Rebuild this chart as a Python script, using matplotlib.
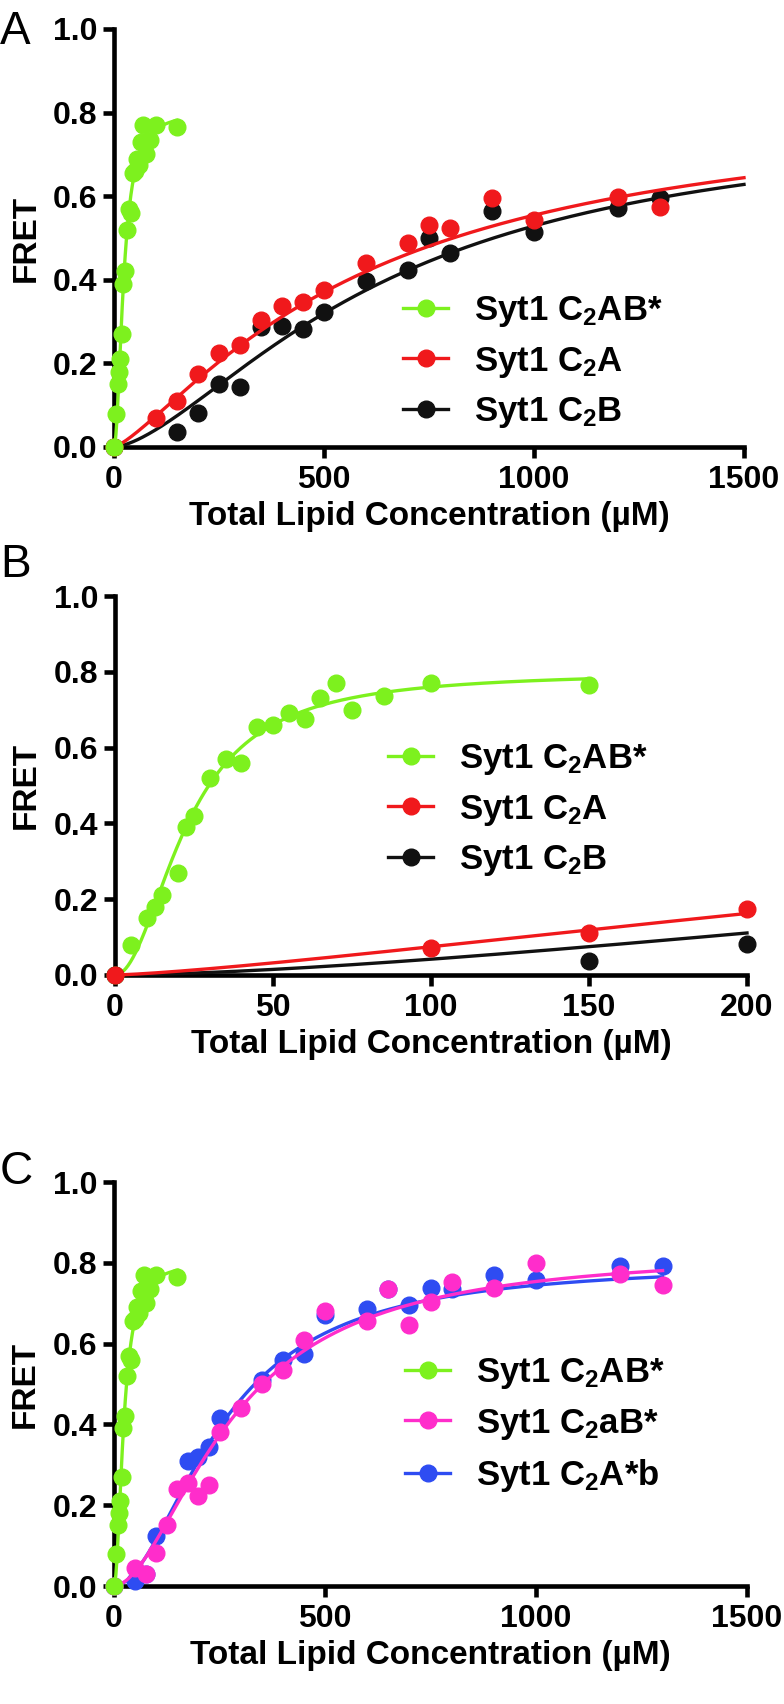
import matplotlib
matplotlib.use("Agg")
import matplotlib.pyplot as plt
from matplotlib import font_manager as fm
import numpy as np

plt.rcParams['font.family'] = ['Liberation Sans', 'DejaVu Sans']
plt.rcParams['font.weight'] = 'bold'
plt.rcParams['axes.labelweight'] = 'bold'
plt.rcParams['mathtext.fontset'] = 'custom'
plt.rcParams['mathtext.rm'] = 'Liberation Sans:bold'
plt.rcParams['mathtext.it'] = 'Liberation Sans:bold'
plt.rcParams['mathtext.bf'] = 'Liberation Sans:bold'

#--- Data (Total lipid concentration in uM, FRET)
c2ab_x = [0, 5, 10, 12.5, 15, 20, 22.5, 25, 30, 35, 40, 45, 50, 55, 60, 65, 70, 75, 85, 100, 150]
c2ab_y = [0, 0.08, 0.15, 0.18, 0.21, 0.27, 0.39, 0.42, 0.52, 0.57, 0.56, 0.655, 0.66, 0.69, 0.675,
          0.73, 0.77, 0.70, 0.735, 0.77, 0.765]

c2a_x = [0, 100, 150, 200, 250, 300, 350, 400, 450, 500, 600, 700, 750, 800, 900, 1000, 1200, 1300]
c2a_y = [0, 0.07, 0.11, 0.175, 0.225, 0.245, 0.305, 0.337, 0.347, 0.375, 0.44, 0.487, 0.53, 0.523,
         0.595, 0.543, 0.599, 0.573]

c2b_x = [0, 150, 200, 250, 300, 350, 400, 450, 500, 600, 700, 750, 800, 900, 1000, 1200, 1300]
c2b_y = [0, 0.036, 0.082, 0.15, 0.144, 0.286, 0.289, 0.283, 0.323, 0.397, 0.423, 0.50, 0.464, 0.565,
         0.514, 0.571, 0.595]

c2aB_x = [0, 50, 75, 100, 125, 150, 175, 200, 225, 250, 300, 350, 400, 450, 500, 600, 650, 700,
          750, 800, 900, 1000, 1200, 1300]
c2aB_y = [0, 0.045, 0.03, 0.082, 0.15, 0.24, 0.255, 0.222, 0.25, 0.38, 0.44, 0.50, 0.535, 0.61, 0.68,
          0.655, 0.735, 0.646, 0.704, 0.753, 0.737, 0.80, 0.772, 0.745]

c2Ab_x = [0, 50, 75, 100, 175, 200, 225, 250, 350, 400, 450, 500, 600, 650, 700, 750, 800, 900,
          1000, 1200, 1300]
c2Ab_y = [0, 0.012, 0.03, 0.125, 0.31, 0.32, 0.345, 0.415, 0.51, 0.56, 0.575, 0.67, 0.685, 0.735,
          0.696, 0.737, 0.735, 0.77, 0.757, 0.792, 0.792]

#--- Hill fit parameters (Fmax, K, n) estimated from the drawn fit curves
fit_c2ab = (0.80, 23, 2.0)
fit_c2a = (0.84, 600, 1.3)
fit_c2b = (0.80, 650, 1.55)
fit_c2aB = (0.83, 280, 1.8)
fit_c2Ab = (0.80, 255, 1.9)

lab_c2ab = "Syt1 C$_2$AB*"
lab_c2a = "Syt1 C$_2$A"
lab_c2b = "Syt1 C$_2$B"
lab_c2aB = "Syt1 C$_2$aB*"
lab_c2Ab = "Syt1 C$_2$A*b"

col_green = "#7DF11E"
col_red = "#F0191C"
col_black = "#111111"
col_pink = "#FF2DCB"
col_blue = "#2E4CF2"

W, H = 784, 1704


def has_font(name):
    try:
        fm.findfont(fm.FontProperties(family=name), fallback_to_default=False)
        return True
    except ValueError:
        return False


#--- tick labels in the original look like a narrow bold sans
if has_font('Liberation Sans Narrow'):
    tick_family, tick_size = 'Liberation Sans Narrow', 25
else:
    tick_family, tick_size = 'Liberation Sans', 23


def hill(x, fmax, k, n):
    return fmax * x**n / (k**n + x**n)


def make_axes(left, top, right, bottom, xmax, xticks):
    ax = fig.add_axes([left / W, 1 - bottom / H, (right - left) / W, (bottom - top) / H])
    for s in ['top', 'right']:
        ax.spines[s].set_visible(False)
    for s in ['left', 'bottom']:
        ax.spines[s].set_linewidth(3.3)
    ax.tick_params(direction='out', length=8, width=3.3)
    ax.tick_params(axis='x', pad=5)
    ax.tick_params(axis='y', pad=4)
    ax.set_xlim(0, xmax)
    ax.set_xticks(xticks)
    ax.set_xticklabels([str(t) for t in xticks])
    ax.set_ylim(0, 1.0)
    ax.set_yticks([0, 0.2, 0.4, 0.6, 0.8, 1.0])
    ax.set_yticklabels(["0.0", "0.2", "0.4", "0.6", "0.8", "1.0"])
    for lbl in ax.get_xticklabels() + ax.get_yticklabels():
        lbl.set_family(tick_family)
        lbl.set_fontsize(tick_size)
        lbl.set_fontweight('bold')
    ax.set_ylabel("FRET", fontsize=24, va='center')
    ax.yaxis.set_label_coords(-0.14, 0.5)
    # x label top sits a fixed number of pixels below the axis line
    ax.set_xlabel("Total Lipid Concentration (\u00b5M)", fontsize=24, va='top')
    ax.xaxis.set_label_coords(0.5, -54 / (bottom - top))
    return ax


def series(ax, x, y, fit, xmax, color, label, z):
    xs = np.linspace(0, xmax, 400)
    ax.plot(xs, hill(xs, *fit), color=color, lw=2.4, zorder=z, clip_on=False)
    ax.plot(x, y, 'o', color=color, ms=12, zorder=z + 0.5, clip_on=False)
    # legend proxy (line + marker)
    ax.plot([], [], '-o', color=color, ms=12, lw=2.4, label=label)


def legend(ax, x_px, y_px, order):
    handles, labels = ax.get_legend_handles_labels()
    hl = dict(zip(labels, handles))
    ax.legend([hl[l] for l in order], order, loc='upper left',
              bbox_to_anchor=(x_px / W, 1 - y_px / H), bbox_transform=fig.transFigure,
              frameon=False, fontsize=25, handlelength=1.3, handletextpad=0.75,
              labelspacing=0.45, borderpad=0, borderaxespad=0)


fig = plt.figure(figsize=(W / 100, H / 100), dpi=100)

#--- Panel A
axA = make_axes(114, 29, 744, 447, 1500, [0, 500, 1000, 1500])
series(axA, c2b_x, c2b_y, fit_c2b, 1500, col_black, lab_c2b, 3)
series(axA, c2a_x, c2a_y, fit_c2a, 1500, col_red, lab_c2a, 4)
series(axA, c2ab_x, c2ab_y, fit_c2ab, 150, col_green, lab_c2ab, 5)
legend(axA, 403, 294, [lab_c2ab, lab_c2a, lab_c2b])

#--- Panel B
axB = make_axes(115, 596, 747, 975, 200, [0, 50, 100, 150, 200])
series(axB, c2ab_x, c2ab_y, fit_c2ab, 150, col_green, lab_c2ab, 3)
series(axB, c2b_x, c2b_y, fit_c2b, 200, col_black, lab_c2b, 4)
series(axB, c2a_x, c2a_y, fit_c2a, 200, col_red, lab_c2a, 5)
legend(axB, 388, 742, [lab_c2ab, lab_c2a, lab_c2b])

#--- Panel C
axC = make_axes(114, 1182, 747, 1586, 1500, [0, 500, 1000, 1500])
series(axC, c2Ab_x, c2Ab_y, fit_c2Ab, 1300, col_blue, lab_c2Ab, 3)
series(axC, c2aB_x, c2aB_y, fit_c2aB, 1300, col_pink, lab_c2aB, 4)
series(axC, c2ab_x, c2ab_y, fit_c2ab, 150, col_green, lab_c2ab, 5)
legend(axC, 405, 1356, [lab_c2ab, lab_c2aB, lab_c2Ab])

#--- Panel letters
for letter, ypx in [("A", 10), ("B", 543), ("C", 1150)]:
    fig.text(0 / W, 1 - ypx / H, letter, fontsize=33, fontweight='normal', ha='left', va='top')

fig.savefig("out.png", dpi=100)
plt.close()
